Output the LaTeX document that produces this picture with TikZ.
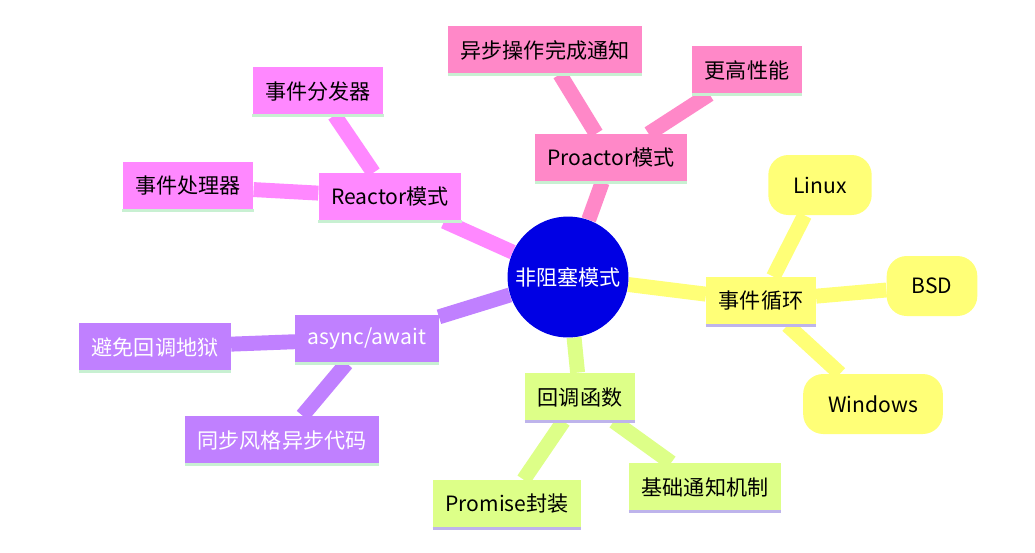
\documentclass[tikz,border=0pt]{standalone}
\usepackage{fontspec}
\setmainfont{Noto Sans CJK SC}
\usetikzlibrary{backgrounds}
\definecolor{rootblue}{RGB}{0,0,228}
\definecolor{proc}{RGB}{255,136,200}
\definecolor{reac}{RGB}{255,136,255}
\definecolor{asyn}{RGB}{192,128,255}
\definecolor{cbk}{RGB}{221,255,136}
\definecolor{evl}{RGB}{255,255,119}
\definecolor{mint}{RGB}{200,240,210}
\definecolor{lav}{RGB}{190,180,235}
\tikzset{
  box/.style={rectangle, minimum height=0.96cm, inner xsep=0.25cm, font=\large},
  pill/.style={box, rounded corners=0.4cm, minimum height=1.2cm, inner xsep=0.5cm},
  link/.style={line width=8.5pt},
  uline/.style={line width=1.5pt}
}
\begin{document}
\begin{tikzpicture}[x=0.02cm,y=-0.02cm]
\useasboundingbox (0,0) rectangle (1035,552);
\node[circle, fill=rootblue, text=white, minimum size=2.4cm, font=\large] (root) at (568,277) {非阻塞模式};

\node[box, fill=proc] (pro) at (611,158) {Proactor模式};
\node[box, fill=proc] (pro1) at (545,50) {异步操作完成通知};
\node[box, fill=proc] (pro2) at (747,70) {更高性能};

\node[box, fill=reac] (rea) at (390,197) {Reactor模式};
\node[box, fill=reac] (rea1) at (318,91) {事件分发器};
\node[box, fill=reac] (rea2) at (188,186) {事件处理器};

\node[box, fill=asyn, text=white] (asy) at (367,339) {async/await};
\node[box, fill=asyn, text=white] (asy1) at (155,347) {避免回调地狱};
\node[box, fill=asyn, text=white] (asy2) at (282,440) {同步风格异步代码};

\node[box, fill=cbk] (cb) at (580,397) {回调函数};
\node[box, fill=cbk] (cb1) at (507,504) {Promise封装};
\node[box, fill=cbk] (cb2) at (705,487) {基础通知机制};

\node[box, fill=evl] (ev) at (761,301) {事件循环};
\node[pill, fill=evl] (ev1) at (820,185) {Linux};
\node[pill, fill=evl] (ev2) at (932,286) {BSD};
\node[pill, fill=evl] (ev3) at (873,404) {Windows};

% underlines
\foreach \n in {pro,pro1,pro2,rea,rea1,rea2,asy,asy1,asy2}
  \draw[uline, mint] (\n.south west) -- (\n.south east);
\foreach \n in {cb,cb1,cb2,ev}
  \draw[uline, lav] (\n.south west) -- (\n.south east);

\begin{scope}[on background layer]
  \draw[link, proc] (root) -- (pro);
  \draw[link, proc] (pro) -- (pro1);
  \draw[link, proc] (pro) -- (pro2);
  \draw[link, reac] (root) -- (rea);
  \draw[link, reac] (rea) -- (rea1);
  \draw[link, reac] (rea) -- (rea2);
  \draw[link, asyn] (root) -- (asy);
  \draw[link, asyn] (asy) -- (asy1);
  \draw[link, asyn] (asy) -- (asy2);
  \draw[link, cbk] (root) -- (cb);
  \draw[link, cbk] (cb) -- (cb1);
  \draw[link, cbk] (cb) -- (cb2);
  \draw[link, evl] (root) -- (ev);
  \draw[link, evl] (ev) -- (ev1);
  \draw[link, evl] (ev) -- (ev2);
  \draw[link, evl] (ev) -- (ev3);
\end{scope}
\end{tikzpicture}
\end{document}
